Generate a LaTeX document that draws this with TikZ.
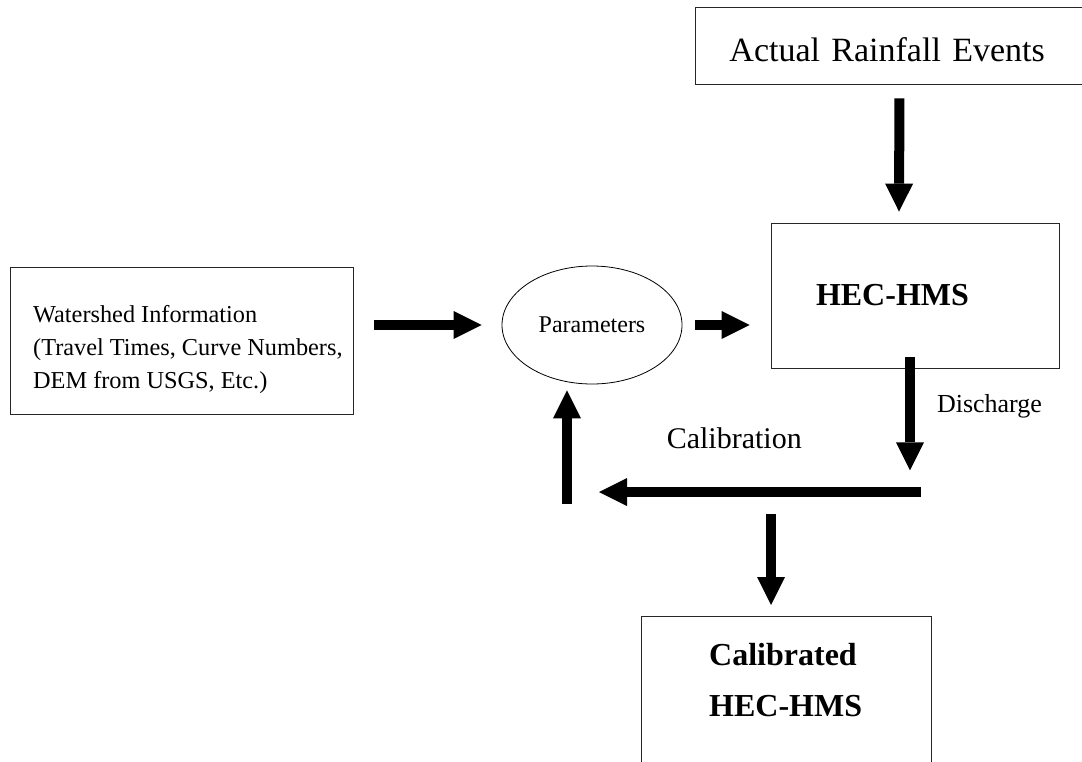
\documentclass[tikz,border=0pt]{standalone}
\usepackage{fontspec}
\setmainfont{Liberation Serif}
\usetikzlibrary{arrows.meta,positioning,calc,shapes.geometric}
\tikzset{
    %Define standard arrow tip
    >={Triangle[width=28pt,length=28pt,line width=0pt]},
    %Define style for boxes
    blok/.style={
           rectangle,
           draw=black!85, line width=0.9pt,
           inner sep=0pt},
    % Define style for open box edges
    rama/.style={draw=black!85, line width=0.9pt},
    %Define style for the ellipse
    owal/.style={
           ellipse,
           draw=black, line width=0.8pt,
           inner sep=0pt,
           minimum width=180pt,
           minimum height=118pt},
    % Define arrow style
    strzalka/.style={
           ->,
           line width=10pt},
    % plain text labels
    opis/.style={inner sep=0pt}
}
\begin{document}
\begin{tikzpicture}[x=1pt,y=-1pt]
\useasboundingbox (0,0) rectangle (1082,761);
\clip (0,0) rectangle (1082,761);

\node[blok, draw=none, anchor=west, minimum width=400pt, minimum height=76pt, text width=332pt, align=left,
  font=\fontsize{34}{40}\selectfont] (rain) at (695,46) {\rule{0pt}{32pt}Actual Rainfall Events};
\draw[rama] (rain.north east) -- (rain.north west) -- (rain.south west) -- (rain.south east);
\node[blok, minimum width=288pt, minimum height=145pt, text width=198pt, align=left,
  font=\fontsize{32}{38}\selectfont\bfseries] (hec) at (915,295.5) {HEC-HMS};
\node[blok, minimum width=343pt, minimum height=147pt] (wshed) at (181.5,340.5) {};
\node[opis, anchor=north west, align=left, font=\fontsize{24.3}{33}\selectfont]
  (wshedtxt) at (33,305) {Watershed Information\\(Travel Times, Curve Numbers,\\DEM from USGS, Etc.)};
\node[owal, font=\fontsize{24}{28}\selectfont] (param) at (592,325) {Parameters};
\node[blok, draw=none, anchor=north, minimum width=289pt, minimum height=160pt] (calib) at (786.5,616) {};
\draw[rama] (calib.south west) -- (calib.north west) -- (calib.north east) -- (calib.south east);
\node[opis, anchor=north west, align=left, font=\fontsize{32}{51}\selectfont\bfseries]
  (calibtxt) at (709,643) {Calibrated\\HEC-HMS};

\coordinate (loopR) at (921,492);
\coordinate (loopL) at (599,492);
\coordinate (loopUp) at (567,504);

\draw[strzalka] ($(rain.south)+(4,14)$) -- ($(hec.north)+(-16,-11)$);
\draw[strzalka] ($(wshed.east |- param.west)+(21,0)$) -- ($(param.west)+(-20,0)$);
\draw[strzalka] ($(param.east)+(13,0)$) -- ($(hec.west |- param.east)+(-21,0)$);
\draw[strzalka] ($(hec.south)+(-5,-11)$) -- ($(hec.south)+(-5,102)$)
  node[opis, pos=0.43, right=22pt, font=\fontsize{26}{30}\selectfont] (discharge) {Discharge};
\draw[strzalka] (loopR) -- (loopL)
  node[opis, pos=0.58, above=38pt, font=\fontsize{30}{34}\selectfont] (calibration) {Calibration};
\draw[strzalka] (loopUp) -- ($(param.south)+(-25,6)$);
\draw[strzalka] ($(calib.north)+(-15.5,-102)$) -- ($(calib.north)+(-15.5,-11)$);
\end{tikzpicture}
\end{document}
